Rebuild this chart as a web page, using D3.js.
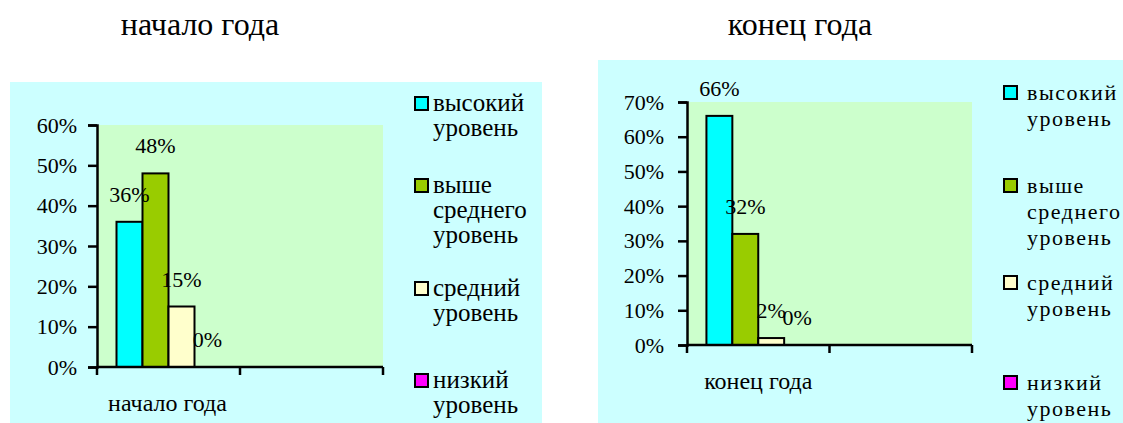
<!DOCTYPE html>
<meta charset="utf-8">
<style>
  body { margin: 0; background: #fff; }
</style>
<body>
<div id="my_dataviz"></div>
<script src="https://d3js.org/d3.v7.min.js"></script>
<script>
  // data
  const seriesNames = ["высокий уровень", "выше среднего уровень", "средний уровень", "низкий уровень"];
  const legendLines = [["высокий", "уровень"], ["выше", "среднего", "уровень"], ["средний", "уровень"], ["низкий", "уровень"]];
  const seriesColors = ["#00FFFF", "#99CC00", "#FFFFCC", "#FF00FF"];
  const startCategories = ["начало года", ""];
  const endCategories = ["конец года", ""];
  const startValues = [0.36, 0.48, 0.15, 0];
  const endValues = [0.66, 0.32, 0.02, 0];
  const startTicks = [0, 0.1, 0.2, 0.3, 0.4, 0.5, 0.6];
  const endTicks = [0, 0.1, 0.2, 0.3, 0.4, 0.5, 0.6, 0.7];

  const serif = "Liberation Serif";

  const svg = d3.select("#my_dataviz")
    .append("svg")
    .attr("width", 1123)
    .attr("height", 423)
    .attr("font-family", serif);

  const fmt = d3.format(".0%");

  function drawChart(opt) {
    const g = svg.append("g");

    // outer background
    g.append("rect")
      .attr("x", opt.box[0]).attr("y", opt.box[1])
      .attr("width", opt.box[2] - opt.box[0]).attr("height", opt.box[3] - opt.box[1])
      .attr("fill", "#CCFFFF");

    // title
    g.append("text")
      .attr("x", opt.titleX).attr("y", 35)
      .attr("text-anchor", "middle")
      .attr("font-family", serif)
      .attr("font-size", 32)
      .text(opt.categories[0]);

    const x = d3.scaleBand().domain(opt.categories).range([opt.plot[0], opt.plot[2]]);
    const y = d3.scaleLinear().domain([0, d3.max(opt.ticks)]).range([opt.plot[3], opt.plot[1]]);
    const xs = d3.scaleBand().domain(seriesNames).range([0, x.bandwidth()]).paddingInner(0).paddingOuter(0.75);

    // plot area
    g.append("rect")
      .attr("x", opt.plot[0]).attr("y", opt.plot[1])
      .attr("width", opt.plot[2] - opt.plot[0]).attr("height", opt.plot[3] - opt.plot[1])
      .attr("fill", "#CCFFCC");

    // bars
    g.selectAll(".bar")
      .data(opt.values)
      .join("rect")
      .attr("class", "bar")
      .attr("x", (d, i) => x(opt.categories[0]) + xs(seriesNames[i]))
      .attr("y", d => y(d))
      .attr("width", xs.bandwidth())
      .attr("height", d => y(0) - y(d))
      .attr("fill", (d, i) => seriesColors[i])
      .attr("stroke", "#000")
      .attr("stroke-width", d => d > 0 ? 2 : 0);

    // y axis
    const yAxis = g.append("g")
      .attr("transform", `translate(${opt.plot[0]},0)`)
      .call(d3.axisLeft(y).tickValues(opt.ticks).tickFormat(fmt).tickSize(9).tickPadding(opt.tickPad));
    yAxis.attr("font-family", serif).attr("font-size", 22);
    yAxis.select(".domain").attr("stroke-width", 2.5);
    yAxis.selectAll(".tick line").attr("stroke-width", 2.5);

    // x axis line + ticks at band edges
    g.append("line")
      .attr("x1", opt.plot[0]).attr("x2", opt.plot[2])
      .attr("y1", y(0)).attr("y2", y(0))
      .attr("stroke", "#000").attr("stroke-width", 2.5);
    const edges = opt.categories.map(c => x(c)).concat([x.range()[1]]);
    g.selectAll(".xtick")
      .data(edges)
      .join("line")
      .attr("x1", d => d).attr("x2", d => d)
      .attr("y1", y(0)).attr("y2", y(0) + 8)
      .attr("stroke", "#000").attr("stroke-width", 2.5);
    g.append("text")
      .attr("x", x(opt.categories[0]) + x.bandwidth() / 2 + opt.catShift)
      .attr("y", opt.catY)
      .attr("text-anchor", "middle")
      .attr("font-family", serif)
      .attr("font-size", 24)
      .text(opt.categories[0]);

    // data labels
    g.selectAll(".lbl")
      .data(opt.values)
      .join("text")
      .attr("class", "lbl")
      .attr("x", (d, i) => x(opt.categories[0]) + xs(seriesNames[i]) + xs.bandwidth() / 2)
      .attr("y", d => y(d) - 20)
      .attr("text-anchor", "middle")
      .attr("font-family", serif)
      .attr("font-size", 22)
      .text(d => fmt(d));

    // legend
    const leg = g.selectAll(".leg")
      .data(legendLines)
      .join("g")
      .attr("class", "leg")
      .attr("transform", (d, i) => `translate(${opt.legX},${opt.legY[i]})`);
    leg.append("rect")
      .attr("x", 0).attr("y", -14)
      .attr("width", 13).attr("height", 13)
      .attr("fill", (d, i) => seriesColors[i])
      .attr("stroke", "#000").attr("stroke-width", 2);
    leg.append("text")
      .attr("font-family", serif)
      .attr("font-size", opt.legSize)
      .attr("letter-spacing", opt.legSpacing)
      .selectAll("tspan")
      .data(d => d)
      .join("tspan")
      .attr("x", opt.legText)
      .attr("y", (d, i) => i * opt.legLine)
      .text(d => d);
  }

  drawChart({
    box: [10, 82, 542, 423],
    plot: [97, 125, 383, 367],
    titleX: 200,
    categories: startCategories,
    values: startValues,
    ticks: startTicks,
    tickPad: 11,
    catY: 411,
    catShift: -1,
    legX: 415,
    legText: 18,
    legSize: 25,
    legY: [111, 193, 296, 388],
    legLine: 25,
    legSpacing: 0
  });

  drawChart({
    box: [598, 60, 1123, 423],
    plot: [687, 102, 972, 345],
    titleX: 800,
    categories: endCategories,
    values: endValues,
    ticks: endTicks,
    tickPad: 14,
    catY: 389,
    catShift: 0,
    legX: 1004,
    legText: 23,
    legSize: 22,
    legY: [100, 193, 290, 390],
    legLine: 26,
    legSpacing: 1.5
  });
</script>
</body>
